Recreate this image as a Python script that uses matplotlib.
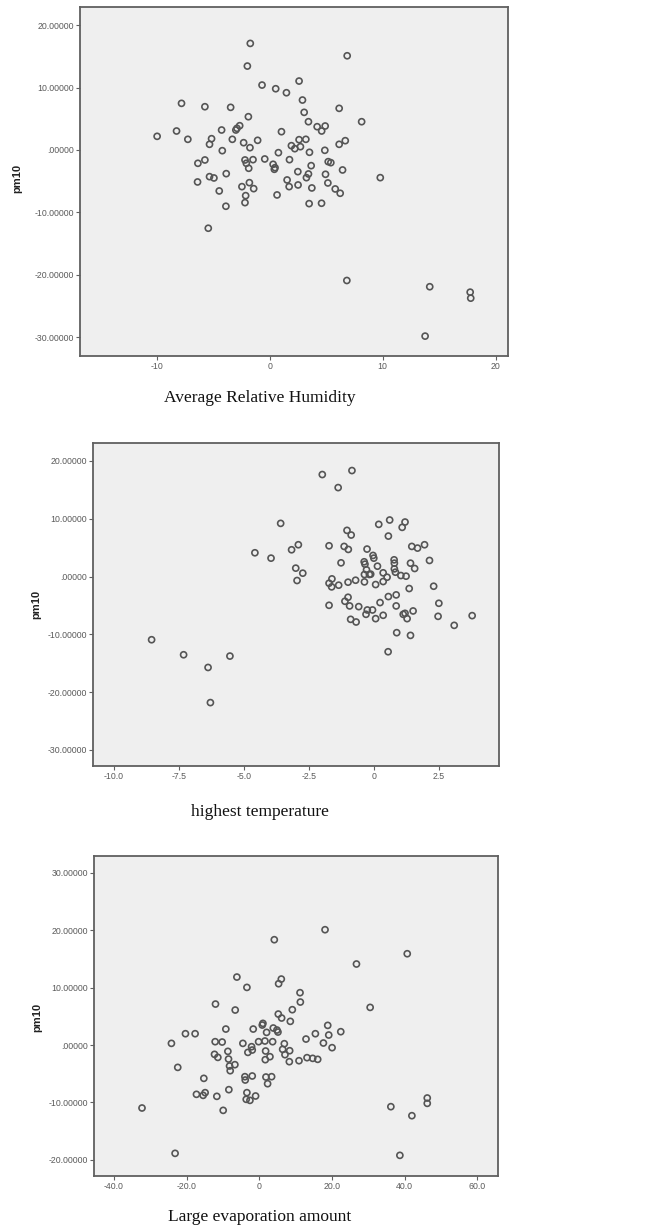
import matplotlib
matplotlib.use('Agg')
import matplotlib.pyplot as plt

# ---- data ----
humidity_x = [-1.72, -1.98, 6.86, 2.60, -0.68, 0.53, 1.48, 2.90, -7.81, -5.74,
              -3.46, 6.15, 3.05, -1.89, 3.43, 8.14, -2.66, -2.90, -3.00, 4.20,
              4.91, 4.60, -4.26, -8.25, 1.04, -9.97, -7.25, -5.15, -3.31, -5.33,
              -2.31, -1.07, 2.60, 3.20, 6.69, 6.15, 1.92, 2.22, 2.72, -1.75,
              -4.20, 0.77, 3.52, 4.88, -6.36, -5.74, -2.19, -1.48, -0.44, 1.75,
              -2.07, 0.30, 0.47, 0.41, -1.86, 3.67, 5.18, 5.41, -6.39, -5.33,
              -4.94, -3.85, 2.49, 3.43, 3.25, 4.94, 6.45, 9.79, 1.54, 1.72,
              2.51, -1.80, -2.46, -1.42, 3.73, 5.15, 5.80, 6.24, -4.47, -2.13,
              0.65, -2.19, 3.49, 4.59, -3.88, -5.44, 6.83, 14.17, 17.75, 17.80,
              13.76]
humidity_y = [17.07, 13.44, 15.09, 11.04, 10.40, 9.81, 9.17, 8.00, 7.47, 6.93,
              6.83, 6.67, 6.03, 5.33, 4.53, 4.53, 3.89, 3.47, 3.20, 3.73,
              3.84, 3.04, 3.20, 3.04, 2.93, 2.19, 1.71, 1.81, 1.71, 0.91,
              1.17, 1.55, 1.65, 1.71, 1.49, 0.91, 0.69, 0.21, 0.53, 0.37,
              -0.11, -0.43, -0.37, -0.05, -2.13, -1.60, -1.60, -1.55, -1.44, -1.55,
              -2.13, -2.29, -2.83, -3.09, -2.93, -2.51, -1.87, -2.03, -5.12, -4.27,
              -4.48, -3.79, -3.47, -3.84, -4.43, -3.89, -3.20, -4.43, -4.80, -5.87,
              -5.60, -5.23, -5.87, -6.19, -6.08, -5.28, -6.24, -6.93, -6.56, -7.31,
              -7.20, -8.43, -8.59, -8.53, -9.01, -12.53, -20.90, -21.90, -22.77, -23.73,
              -29.81]

temp_x = [-1.99, -0.85, -1.38, -3.59, 0.18, 0.60, 1.19, 1.08, -1.04, -0.88,
          0.55, -4.58, -3.96, -3.17, -2.91, -1.73, -1.15, -0.99, -0.27, 1.45,
          1.67, 1.94, -0.04, -0.01, -0.38, -0.35, -1.27, 0.77, 0.78, 1.40,
          2.13, -3.01, -2.74, 0.13, 1.56, -0.29, 0.78, 0.82, -0.37, -0.18,
          -0.13, 0.35, 0.50, 1.03, 1.23, -2.96, -1.62, -1.73, -1.63, -1.36,
          -1.00, -0.71, -0.37, 0.06, 0.35, 2.29, 1.35, -1.00, -1.12, -0.94,
          -1.73, -0.59, 0.55, 0.23, 0.85, 0.85, -0.26, -0.06, -0.31, 0.35,
          0.06, -0.90, -0.69, 1.12, 1.19, 1.27, 1.50, 2.49, 2.46, 3.08,
          3.77, 0.87, 1.40, 0.54, -8.55, -7.32, -5.54, -6.38, -6.29]
temp_y = [17.65, 18.34, 15.39, 9.20, 9.03, 9.78, 9.43, 8.51, 7.99, 7.18,
          7.00, 4.11, 3.18, 4.63, 5.50, 5.32, 5.21, 4.69, 4.75, 5.21,
          4.92, 5.50, 3.65, 3.18, 2.55, 2.14, 2.37, 2.89, 2.31, 2.31,
          2.78, 1.45, 0.58, 1.79, 1.39, 1.16, 1.33, 0.75, 0.35, 0.35,
          0.41, 0.64, -0.12, 0.17, 0.06, -0.69, -0.41, -1.16, -1.79, -1.50,
          -0.98, -0.64, -0.93, -1.39, -0.87, -1.68, -2.08, -3.59, -4.28, -5.09,
          -4.98, -5.21, -3.47, -4.51, -3.18, -5.09, -5.79, -5.79, -6.54, -6.71,
          -7.29, -7.41, -7.87, -6.54, -6.37, -7.29, -5.96, -4.63, -6.89, -8.45,
          -6.77, -9.72, -10.19, -13.02, -10.94, -13.54, -13.77, -15.74, -21.82]

evap_x = [18.11, 4.14, 40.74, 26.76, -6.16, 6.07, 5.33, -3.40, 11.22, 11.31,
          -12.05, 30.53, -6.62, 9.10, 5.24, 6.16, 8.55, 1.01, 0.83, 18.85,
          -9.20, -1.66, 3.86, 4.87, 5.15, 2.02, 22.44, -20.32, -17.66, 15.45,
          19.13, 12.87, -12.14, -10.21, -24.18, -4.51, -0.18, 1.56, 3.68, 6.90,
          17.66, 20.05, -2.11, -1.93, -3.13, -8.64, 1.75, 6.44, 8.37, 7.08,
          -12.32, -11.40, -8.46, 2.94, 1.66, 8.28, 10.94, 13.15, 14.71, 16.09,
          -22.44, -8.18, -6.71, -8.00, -15.26, -3.95, -3.86, -1.93, 1.84, 3.40,
          2.30, -8.37, -17.29, -15.45, -14.90, -11.68, -3.40, -1.01, -3.59, -2.57,
          -9.93, -32.28, 36.23, 42.02, 46.25, 46.25, -23.17, 38.71]
evap_y = [20.07, 18.33, 15.89, 14.10, 11.83, 11.48, 10.67, 10.03, 9.11, 7.48,
          7.13, 6.55, 6.09, 6.15, 5.39, 4.70, 4.12, 3.77, 3.48, 3.42,
          2.78, 2.78, 2.96, 2.61, 2.26, 2.20, 2.32, 1.97, 1.97, 1.97,
          1.74, 1.04, 0.58, 0.52, 0.29, 0.29, 0.58, 0.70, 0.58, 0.23,
          0.35, -0.46, -0.29, -0.87, -1.28, -1.10, -1.04, -0.75, -0.99, -1.68,
          -1.62, -2.15, -2.44, -2.03, -2.55, -2.90, -2.73, -2.20, -2.32, -2.49,
          -3.89, -3.65, -3.42, -4.47, -5.80, -5.51, -6.09, -5.39, -5.57, -5.51,
          -6.73, -7.77, -8.58, -8.76, -8.29, -8.93, -8.29, -8.87, -9.45, -9.63,
          -11.37, -10.96, -10.73, -12.30, -9.22, -10.15, -18.85, -19.20]

hum_xticks = [-10, 0, 10, 20]
hum_xlabels = ['-10', '0', '10', '20']
temp_xticks = [-10.0, -7.5, -5.0, -2.5, 0.0, 2.5]
temp_xlabels = ['-10.0', '-7.5', '-5.0', '-2.5', '0', '2.5']
evap_xticks = [-40, -20, 0, 20, 40, 60]
evap_xlabels = ['-40.0', '-20.0', '0', '20.0', '40.0', '60.0']

y_ticks_a = [20, 10, 0, -10, -20, -30]
y_ticks_c = [30, 20, 10, 0, -10, -20]


def y_label(v):
    if v == 0:
        return '.00000'
    return '%.5f' % v


def scatter_panel(ax, x, y, xticks, xlabels, yticks, xlim, ylim):
    ax.set_facecolor('#efefef')
    ax.scatter(x, y, s=19, facecolors='none', edgecolors='#555555', linewidths=1.2)
    ax.set_xlim(*xlim)
    ax.set_ylim(*ylim)
    ax.set_xticks(xticks)
    ax.set_xticklabels(xlabels)
    ax.set_yticks(yticks)
    ax.set_yticklabels([y_label(v) for v in yticks])
    for s in ax.spines.values():
        s.set_color('#606060')
        s.set_linewidth(1.3)
    ax.tick_params(direction='out', length=3, width=0.8, color='#606060',
                   labelsize=6.3, labelcolor='#5a5a5a', pad=1.5)
    for lab in ax.get_xticklabels() + ax.get_yticklabels():
        lab.set_family('Liberation Sans')


fig = plt.figure(figsize=(6.6, 12.29), dpi=100)

ax1 = fig.add_axes([0.1212, 0.7103, 0.6485, 0.2840])
scatter_panel(ax1, humidity_x, humidity_y, hum_xticks, hum_xlabels, y_ticks_a,
              (-16.8, 21.1), (-33.0, 22.9))

ax2 = fig.add_axes([0.1410, 0.3767, 0.6150, 0.2628])
scatter_panel(ax2, temp_x, temp_y, temp_xticks, temp_xlabels, y_ticks_a,
              (-10.8, 4.8), (-32.8, 23.1))

ax3 = fig.add_axes([0.1424, 0.0431, 0.6120, 0.2604])
scatter_panel(ax3, evap_x, evap_y, evap_xticks, evap_xlabels, y_ticks_c,
              (-45.5, 65.7), (-22.8, 32.9))

# x titles (serif, centred under each panel)
serif = dict(family='Liberation Serif', fontsize=12.5, color='#111111',
             ha='center', va='center')
fig.text(0.394, 0.676, 'Average Relative Humidity', **serif)
fig.text(0.394, 0.339, 'highest temperature', **serif)
fig.text(0.394, 0.0095, 'Large evaporation amount', **serif)

# y titles
ylab = dict(family='Liberation Sans', fontsize=8, fontweight='bold',
            rotation=90, ha='center', va='center', color='#222222')
fig.text(0.026, 0.855, 'pm10', **ylab)
fig.text(0.0545, 0.508, 'pm10', **ylab)
fig.text(0.056, 0.1725, 'pm10', **ylab)

fig.savefig('out.png', dpi=100)
